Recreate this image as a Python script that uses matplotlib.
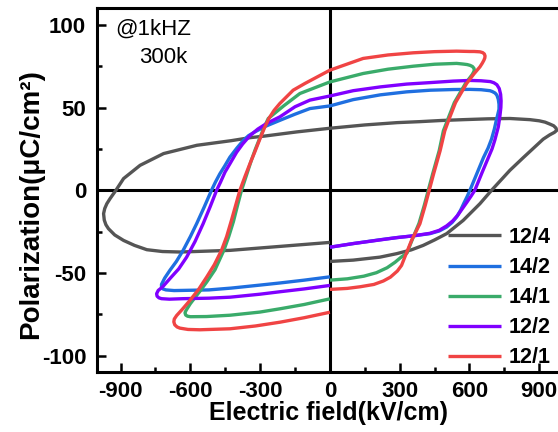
import matplotlib
matplotlib.use("Agg")
import matplotlib.pyplot as plt
from matplotlib.ticker import MultipleLocator

# P-E loops, E in kV/cm, P in uC/cm2
# each loop: start at E=0 (lower right), up to +Emax, back over the top to -Emax, back to E=0
e_12_4 = [0, 100, 215, 287, 350, 401, 450, 502, 573, 645, 695, 774, 831, 917, 945, 965,
          975, 972, 962, 946, 925, 900, 860, 774, 680, 574, 480, 387, 289, 150, 0, -142,
          -285, -344, -424, -572, -715, -816, -887, -920, -945, -959, -968, -973, -970,
          -963, -952, -925, -887, -840, -787, -720, -644, -429, -214, 0]
p_12_4 = [-43.0, -42.2, -40.4, -38.3, -36.0, -33.3, -30.0, -26.2, -18.2, -8.1, 0, 12.1,
          19.7, 30.9, 33.5, 35.0, 36.2, 37.6, 39.0, 40.0, 41.2, 42.0, 42.7, 43.4, 43.2,
          42.7, 42.2, 41.5, 40.9, 39.5, 37.5, 35.3, 32.7, 31.8, 30.0, 27.2, 22.2, 15.1,
          7.1, 0, -5.0, -8.1, -11.0, -14.1, -18.0, -20.8, -23.2, -27.0, -30.3, -33.3,
          -35.9, -37.0, -37.3, -36.3, -33.9, -31.5]

e_14_2 = [0, 100, 215, 287, 360, 430, 470, 502, 525, 545, 562, 577, 590, 602, 630, 660,
          680, 695, 707, 715, 722, 727, 727, 724, 718, 710, 698, 688, 650, 602, 530, 432,
          330, 217, 100, 0, -86, -150, -220, -280, -320, -350, -373, -400, -430, -453,
          -473, -492, -509, -540, -573, -600, -631, -660, -688, -710, -724, -724, -718,
          -705, -670, -631, -520, -424, -301, -214, -110, 0]
p_14_2 = [-34.4, -32.2, -29.9, -28.6, -27.5, -26.2, -24.6, -22.2, -19.5, -16.1, -12.0,
          -7.5, -3.8, 0, 9.5, 19.7, 25.5, 31.0, 37.0, 42.0, 46.0, 49.0, 52.0, 55.0, 57.5,
          58.8, 59.7, 60.2, 60.8, 61.0, 60.9, 60.5, 59.5, 57.7, 54.8, 51.0, 49.4, 46.0,
          42.0, 38.5, 35.5, 33.0, 30.0, 25.5, 20.0, 14.5, 10.0, 5.0, 0, -10.0, -20.2,
          -28.0, -36.3, -43.0, -48.4, -53.0, -56.9, -58.5, -59.6, -60.2, -60.6, -60.5,
          -60.2, -59.1, -57.3, -56.0, -54.3, -52.3]

e_14_1 = [0, 75, 146, 200, 246, 280, 303, 332, 345, 362, 383, 406, 423, 442, 470, 488,
          510, 535, 583, 612, 619, 621, 619, 613, 603, 590, 573, 545, 450, 358, 250, 143,
          0, -129, -199, -265, -283, -300, -320, -338, -352, -366, -380, -397, -415,
          -435, -456, -494, -530, -559, -600, -618, -623, -620, -612, -600, -530, -429,
          -301, -214, -110, 0]
p_14_1 = [-54.3, -53.5, -51.9, -49.8, -46.8, -43.5, -40.8, -37.8, -33.0, -27.0, -20.0,
          -9.0, 0, 10.0, 24.0, 36.0, 44.0, 53.0, 64.6, 70.0, 71.8, 72.8, 73.8, 74.8, 75.5,
          76.0, 76.3, 76.7, 76.2, 75.0, 73.2, 70.6, 65.5, 58.5, 51.0, 43.4, 38.0, 32.0,
          25.0, 18.0, 12.0, 6.0, 0, -9.0, -19.0, -28.0, -36.3, -48.0, -55.5, -61.0, -68.5,
          -72.5, -74.0, -75.4, -76.1, -76.4, -76.3, -75.5, -73.6, -71.6, -69.0, -65.6]

e_12_2 = [0, 100, 215, 287, 360, 430, 470, 502, 528, 550, 570, 590, 607, 623, 655, 681,
          697, 709, 724, 731, 735, 736, 734, 728, 718, 705, 690, 650, 602, 530, 432, 330,
          217, 100, 0, -86, -150, -215, -271, -310, -344, -375, -401, -430, -451, -470,
          -487, -515, -545, -580, -616, -650, -688, -720, -738, -745, -743, -735, -724,
          -690, -631, -520, -429, -301, -214, -110, 0]
p_12_2 = [-34.4, -32.2, -30.0, -28.6, -27.5, -26.0, -24.2, -21.5, -18.5, -15.0, -11.0,
          -7.0, -3.5, 0, 11.0, 19.7, 25.0, 30.3, 38.3, 45.0, 50.0, 54.0, 58.0, 61.5, 63.8,
          65.0, 65.7, 66.2, 66.4, 66.0, 65.1, 64.2, 62.5, 60.2, 57.0, 54.5, 50.5, 44.4,
          40.5, 37.0, 33.0, 28.0, 23.0, 16.0, 11.0, 5.0, 0, -10.0, -20.2, -31.0, -40.4,
          -47.5, -53.4, -58.5, -60.5, -62.5, -64.0, -65.0, -65.5, -65.8, -65.5, -65.2,
          -64.6, -62.8, -61.3, -59.6, -57.5]

e_12_1 = [0, 74, 130, 189, 230, 260, 290, 308, 322, 351, 387, 410, 427, 446, 474, 494,
          515, 540, 588, 620, 645, 655, 662, 666, 667, 664, 657, 645, 620, 602, 545, 450,
          358, 250, 143, 0, -107, -158, -215, -240, -262, -282, -301, -322, -344, -366,
          -387, -405, -423, -444, -466, -497, -530, -565, -602, -635, -659, -669, -671,
          -667, -657, -645, -610, -559, -429, -320, -214, -110, 0]
p_12_1 = [-59.9, -59.3, -58.3, -56.9, -54.8, -52.5, -48.8, -45.4, -40.4, -30.3, -20.2,
          -9.0, 0, 10.0, 24.0, 36.0, 44.0, 53.0, 64.6, 70.5, 74.6, 76.8, 78.6, 80.0, 81.2,
          82.4, 83.2, 83.7, 83.9, 83.9, 84.1, 83.8, 83.1, 81.8, 79.7, 72.6, 64.6, 60.5,
          52.5, 48.3, 43.5, 37.5, 31.0, 23.5, 16.0, 8.0, 0, -9.0, -18.0, -28.0, -36.3,
          -45.0, -52.5, -60.0, -66.6, -72.0, -75.7, -77.8, -79.5, -81.3, -82.6, -83.3,
          -84.1, -84.3, -83.7, -82.0, -79.7, -77.0, -73.7]

labels = ["12/4", "14/2", "14/1", "12/2", "12/1"]
colors = ["#555555", "#1f6fe0", "#3aab6a", "#8000ff", "#f04444"]

x_ticks = [-900, -600, -300, 0, 300, 600, 900]
y_ticks = [-100, -50, 0, 50, 100]


def main():
    plt.rcParams['font.family'] = ['Liberation Sans', 'DejaVu Sans']
    plt.rcParams['axes.unicode_minus'] = False

    fig = plt.figure(figsize=(5.58, 4.32), dpi=100)
    ax = fig.add_axes([97.3 / 558, 59.7 / 432, 465.2 / 558, 364 / 432])

    ax.axhline(0, color='black', lw=2.2, zorder=1)
    ax.axvline(0, color='black', lw=2.2, zorder=1)

    loops = [(e_12_4, p_12_4), (e_14_2, p_14_2), (e_14_1, p_14_1),
             (e_12_2, p_12_2), (e_12_1, p_12_1)]
    for (e, p), c, lab in zip(loops, colors, labels):
        ax.plot(e, p, color=c, lw=2.4, label=lab, zorder=2,
                solid_joinstyle='round', solid_capstyle='butt')

    ax.set_xlim(-1000, 1000)
    ax.set_ylim(-110, 110)
    ax.set_xticks(x_ticks)
    ax.set_yticks(y_ticks)
    ax.xaxis.set_minor_locator(MultipleLocator(150))
    ax.yaxis.set_minor_locator(MultipleLocator(25))
    ax.tick_params(which='both', direction='in', width=1.8, labelsize=16)
    ax.tick_params(which='major', length=6.5)
    ax.tick_params(which='minor', length=3.5)
    ax.tick_params(axis='x', pad=6)
    ax.tick_params(axis='y', pad=8)
    for t in ax.get_xticklabels() + ax.get_yticklabels():
        t.set_fontweight('bold')

    for s in ax.spines.values():
        s.set_linewidth(2.2)
    ax.spines['right'].set_visible(False)

    ax.set_xlabel('Electric field(kV/cm)', fontsize=18, fontweight='bold')
    ax.set_ylabel('Polarization(μC/cm²)', fontsize=20, fontweight='bold')
    ax.xaxis.set_label_coords(0.496, -0.08)
    ax.yaxis.set_label_coords(-0.115, 0.462)

    ax.text(0.038, 0.9266, '@1kHZ', transform=ax.transAxes, fontsize=16, va='baseline')
    ax.text(0.0897, 0.8497, '300k', transform=ax.transAxes, fontsize=16, va='baseline')

    ax.legend(loc='upper left', bbox_to_anchor=(448 / 558, 1 - 227 / 432),
              bbox_transform=fig.transFigure, frameon=False,
              prop={'weight': 'bold', 'size': 15.5}, handlelength=2.45,
              handletextpad=0.35, labelspacing=0.42, borderpad=0, borderaxespad=0)

    fig.savefig('out.png', dpi=100)


if __name__ == "__main__":
    main()
